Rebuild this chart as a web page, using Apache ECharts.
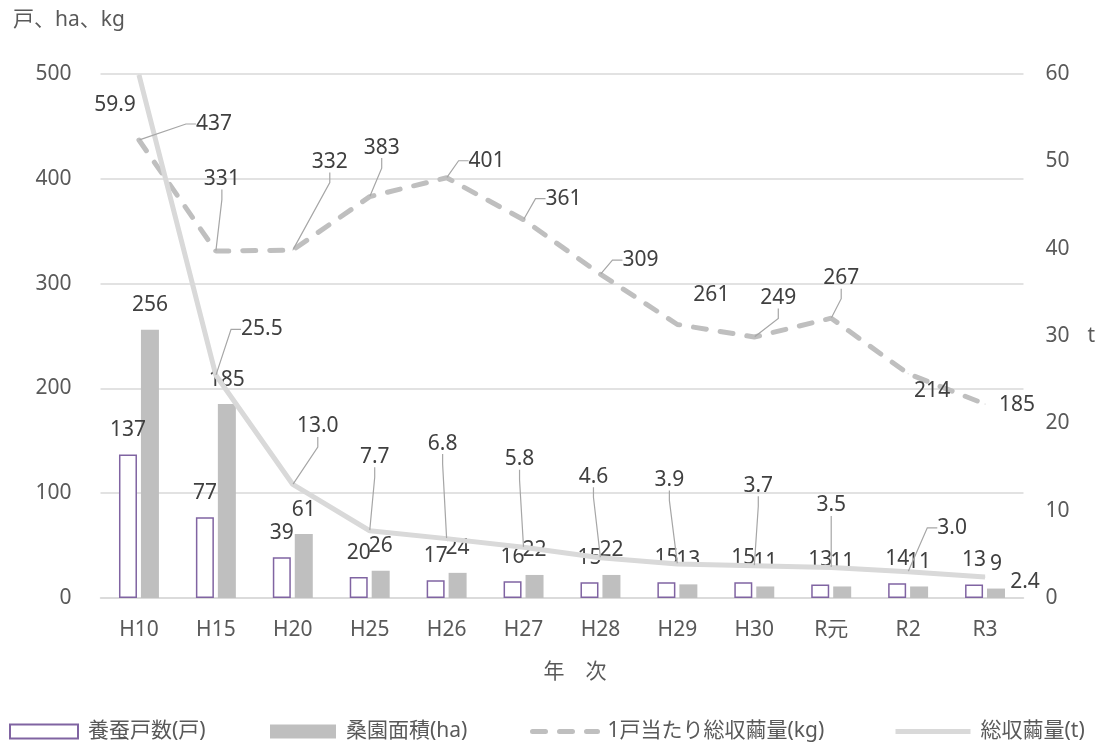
<!DOCTYPE html>
<html>
<head>
<meta charset="utf-8">
<script src="https://cdn.jsdelivr.net/npm/echarts@6/dist/echarts.min.js"></script>
<style>
  html, body { margin: 0; padding: 0; background: #fff; }
  #chart { width: 1103px; height: 744px; }
</style>
</head>
<body>
<div id="chart"></div>
<script>
  // data
  var years = ['H10', 'H15', 'H20', 'H25', 'H26', 'H27', 'H28', 'H29', 'H30', 'R元', 'R2', 'R3'];
  var households = [137, 77, 39, 20, 17, 16, 15, 15, 15, 13, 14, 13];      // 養蚕戸数(戸)
  var mulberryHa = [256, 185, 61, 26, 24, 22, 22, 13, 11, 11, 11, 9];      // 桑園面積(ha)
  var kgPerHouse = [437, 331, 332, 383, 401, 361, 309, 261, 249, 267, 214, 185]; // 1戸当たり総収繭量(kg)
  var totalTons = [59.9, 25.5, 13.0, 7.7, 6.8, 5.8, 4.6, 3.9, 3.7, 3.5, 3.0, 2.4]; // 総収繭量(t)

  var leftAxis = { min: 0, max: 500, step: 100 };
  var rightAxis = { min: 0, max: 60, step: 10 };

  // callout label offsets (px from point) and whether a leader line is drawn
  var kgOffsets = [[75, -16], [6, -72], [37, -88], [12, -49], [40, -17], [40, -21],
                   [40, -14], [34, -29], [24, -39], [10, -40], [24, 17], [32, 1]];
  var kgLeader = [true, true, true, true, true, true, true, false, true, true, false, false];
  var tOffsets = [[-24, 30], [46, -46], [25, -58], [5, -74], [-4, -95], [-4, -88],
                  [-7, -81], [-8, -84], [4, -80], [0, -62], [44, -44], [40, 5]];
  var tLeader = [false, true, true, true, true, true, true, true, true, true, true, false];

  var font = "'Noto Sans', 'Noto Sans CJK JP', sans-serif";
  var labelColor = '#404040';
  var axisColor = '#595959';
  var fs = 21;

  function callout(offsets) {
    return function (p) {
      var o = offsets[p.dataIndex];
      return {
        x: p.rect.x + p.rect.width / 2 + o[0],
        y: p.rect.y + p.rect.height / 2 + o[1],
        align: 'center',
        verticalAlign: 'middle'
      };
    };
  }

  var chart = echarts.init(document.getElementById('chart'));

  var kgData = kgPerHouse.map(function (v, i) {
    return { value: v, labelLine: { show: kgLeader[i] } };
  });
  var tData = totalTons.map(function (v, i) {
    return { value: v, labelLine: { show: tLeader[i] } };
  });

  var legendBase = {
    top: 716,
    itemHeight: 14,
    icon: 'rect',
    textStyle: { fontSize: fs, color: axisColor, fontFamily: font, padding: [0, 0, 0, 5] },
    selectedMode: false
  };

  chart.setOption({
    animation: false,
    textStyle: { fontFamily: font },
    title: {
      text: '戸、ha、kg',
      left: 8,
      top: 5,
      textStyle: { fontSize: fs, fontWeight: 'normal', color: axisColor, fontFamily: font }
    },
    legend: [
      Object.assign({}, legendBase, { left: 4, itemWidth: 68, data: ['養蚕戸数(戸)'] }),
      Object.assign({}, legendBase, { left: 265, itemWidth: 66, data: ['桑園面積(ha)'] }),
      Object.assign({}, legendBase, {
        left: 525, itemWidth: 65, icon: null, data: ['1戸当たり総収繭量(kg)'],
        itemStyle: { opacity: 0 }, lineStyle: { width: 5 }
      }),
      Object.assign({}, legendBase, {
        left: 888, itemWidth: 75, icon: null, data: ['総収繭量(t)'],
        itemStyle: { opacity: 0 }, lineStyle: { width: 5 }
      })
    ],
    grid: { left: 100.5, right: 79.5, top: 74, bottom: 146 },
    xAxis: {
      type: 'category',
      data: years,
      name: '年　次',
      nameLocation: 'middle',
      nameGap: 64,
      nameTextStyle: { fontSize: fs, color: axisColor, fontFamily: font, padding: [0, 0, 0, 26] },
      axisLine: { lineStyle: { color: '#d9d9d9', width: 1.5 } },
      axisTick: { show: false },
      axisLabel: { fontSize: fs, color: axisColor, margin: 22, fontFamily: font }
    },
    yAxis: [
      {
        type: 'value',
        min: leftAxis.min,
        max: leftAxis.max,
        interval: leftAxis.step,
        axisLine: { show: false },
        axisTick: { show: false },
        splitLine: { lineStyle: { color: '#d9d9d9', width: 1.5 } },
        axisLabel: { fontSize: fs, color: axisColor, margin: 29, fontFamily: font }
      },
      {
        type: 'value',
        min: rightAxis.min,
        max: rightAxis.max,
        interval: rightAxis.step,
        name: 't',
        nameLocation: 'middle',
        nameRotate: 0,
        nameGap: 64,
        nameTextStyle: { fontSize: fs, color: axisColor, fontFamily: font },
        axisLine: { show: false },
        axisTick: { show: false },
        splitLine: { show: false },
        axisLabel: { fontSize: fs, color: axisColor, margin: 22, fontFamily: font }
      }
    ],
    series: [
      {
        name: '養蚕戸数(戸)',
        type: 'bar',
        data: households,
        barWidth: 18,
        barGap: '22%',
        itemStyle: { color: '#ffffff', borderColor: '#8064a2', borderWidth: 1.5 },
        label: { show: true, position: 'top', distance: 14, fontSize: fs, color: labelColor, fontFamily: font }
      },
      {
        name: '桑園面積(ha)',
        type: 'bar',
        data: mulberryHa,
        barWidth: 18,
        itemStyle: { color: '#bfbfbf' },
        label: { show: true, position: 'top', distance: 14, fontSize: fs, color: labelColor, fontFamily: font }
      },
      {
        name: '1戸当たり総収繭量(kg)',
        type: 'line',
        data: kgData,
        symbol: 'circle',
        symbolSize: 1,
        showSymbol: true,
        itemStyle: { color: '#bfbfbf' },
        lineStyle: { color: '#bfbfbf', width: 5, type: [13, 14], cap: 'round' },
        label: { show: true, fontSize: fs, color: labelColor, fontFamily: font },
        labelLine: { show: true, length2: 10, lineStyle: { color: '#a6a6a6', width: 1.2 } },
        labelLayout: callout(kgOffsets)
      },
      {
        name: '総収繭量(t)',
        type: 'line',
        yAxisIndex: 1,
        data: tData,
        symbol: 'circle',
        symbolSize: 1,
        showSymbol: true,
        itemStyle: { color: '#d9d9d9' },
        lineStyle: { color: '#d9d9d9', width: 5 },
        label: {
          show: true, fontSize: fs, color: labelColor, fontFamily: font,
          formatter: function (p) { return p.value.toFixed(1); }
        },
        labelLine: { show: true, length2: 10, lineStyle: { color: '#a6a6a6', width: 1.2 } },
        labelLayout: callout(tOffsets)
      }
    ]
  });
</script>
</body>
</html>
